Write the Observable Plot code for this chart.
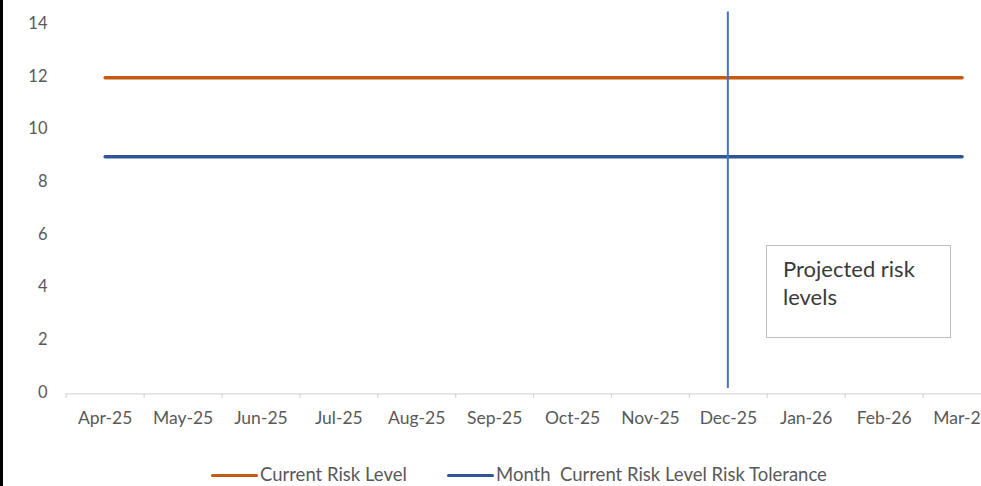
<!DOCTYPE html>
<html>
<head>
<meta charset="utf-8">
<script src="https://cdn.jsdelivr.net/npm/d3@7"></script>
<script src="https://cdn.jsdelivr.net/npm/@observablehq/plot@0.6"></script>
<style>
  html, body { margin: 0; padding: 0; background: #fff; overflow: hidden; }
  #wrap { position: relative; width: 981px; height: 486px; overflow: hidden; font-family: Lato, "Open Sans", sans-serif; }
  #chart svg { overflow: hidden; display: block; }
  #border { position: absolute; left: 0; top: 0; width: 3px; height: 486px; background: #000; }
  #note { position: absolute; left: 766px; top: 245px; width: 183px; height: 91px; border: 1.5px solid #bfbfbf; box-sizing: content-box; padding: 0; }
  #note div { position: absolute; left: 16px; top: 9px; font-size: 22px; line-height: 28px; color: #3a3a3a; }
  .leg { position: absolute; top: 465px; height: 18px; font-size: 18.5px; color: #595959; white-space: pre; line-height: 18px; }
  .leg span.sw { display: inline-block; width: 47px; height: 3.5px; vertical-align: middle; margin-right: 2px; position: relative; top: -1px; border-radius: 2px; }
</style>
</head>
<body>
<div id="wrap">
  <div id="chart"></div>
  <div id="border"></div>
  <div id="note"><div>Projected risk<br>levels</div></div>
  <div class="leg" id="leg1" style="left:211px"></div>
  <div class="leg" id="leg2" style="left:447px"></div>
</div>
<script>
const months = ["Apr-25","May-25","Jun-25","Jul-25","Aug-25","Sep-25","Oct-25","Nov-25","Dec-25","Jan-26","Feb-26","Mar-26"];
const currentRiskLevel = [12,12,12,12,12,12,12,12,12,12,12,12];
const riskTolerance = [9,9,9,9,9,9,9,9,9,9,9,9];
const yTicks = [0,2,4,6,8,10,12,14];
const seriesNames = ["Current Risk Level", "Month  Current Risk Level Risk Tolerance"];
const seriesColors = ["#C55A11", "#2F5597"];
const projectionMonth = ["Dec-25"];
const projectionSpan = [0.2, 14.5];
const markerColor = "#4472C4";

const rows = [];
months.forEach((m, i) => {
  rows.push({month: m, value: currentRiskLevel[i], series: seriesNames[0]});
  rows.push({month: m, value: riskTolerance[i], series: seriesNames[1]});
});

const x0 = 65.7, bw = 77.9;
const plot = Plot.plot({
  width: 981,
  height: 450,
  marginLeft: 66,
  marginRight: 0,
  marginTop: 10,
  marginBottom: 57,
  style: {fontFamily: "Lato, 'Open Sans', sans-serif", fontSize: "16px", color: "#595959", background: "#fff"},
  x: {type: "band", domain: months, range: [x0, x0 + bw * months.length], padding: 0, round: false, label: null},
  y: {domain: [0, 14], range: [393.3, 24.7], label: null},
  marks: [
    Plot.ruleY([0], {stroke: "#d9d9d9", strokeWidth: 1.3}),
    Plot.axisX({tickSize: 5, text: null, dx: -bw / 2, stroke: "#d9d9d9", strokeWidth: 1.3, label: null}),
    Plot.axisX({tickSize: 0, tickPadding: 18, fill: "#595959", fontSize: 17.5, label: null}),
    Plot.axisY({ticks: yTicks, tickSize: 0, tickPadding: 19, dy: -1.5, fill: "#595959", fontSize: 16.5, label: null}),
    Plot.lineY(rows, {x: "month", y: "value", z: "series", stroke: "series", strokeWidth: 3.5}),
    Plot.ruleX(projectionMonth, {x: d => d, y1: projectionSpan[0], y2: projectionSpan[1], stroke: markerColor, strokeWidth: 2, dx: -0.5})
  ],
  color: {domain: seriesNames, range: seriesColors}
});
document.getElementById("chart").appendChild(plot);

["leg1", "leg2"].forEach((id, i) => {
  const el = document.getElementById(id);
  const sw = document.createElement("span");
  sw.className = "sw";
  sw.style.background = seriesColors[i];
  el.appendChild(sw);
  el.appendChild(document.createTextNode(seriesNames[i]));
});
</script>
</body>
</html>
